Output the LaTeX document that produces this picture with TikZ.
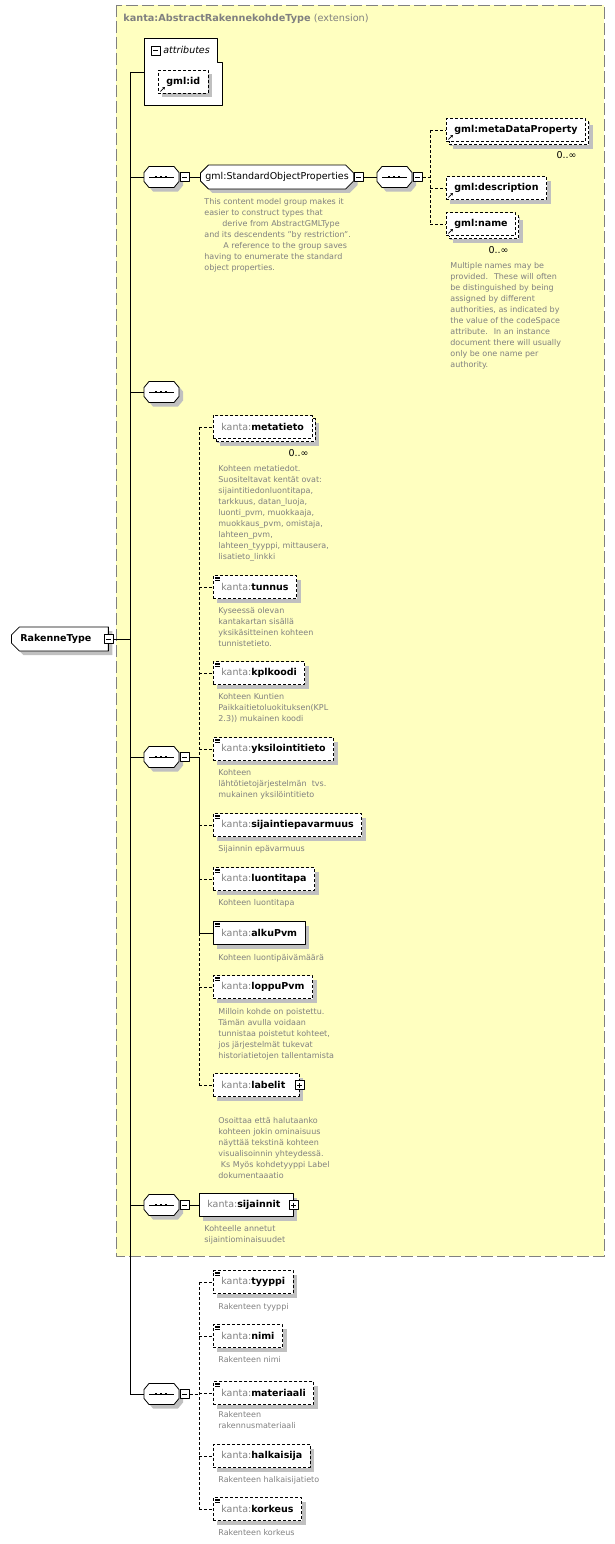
\documentclass[tikz,border=0pt]{standalone}
\usepackage{fontspec}
\setmainfont{DejaVu Sans}
\usetikzlibrary{shapes.misc,shadows,arrows.meta}
\definecolor{extyellow}{HTML}{FFFFC0}
\definecolor{txtgray}{HTML}{808080}
\definecolor{shgray}{HTML}{C0C0C0}
\newcommand\kanta[1]{\textcolor{txtgray}{kanta:}\textbf{#1}}
\newcommand\gmlel[1]{\textbf{gml:#1}}
% sequence symbol: name, x, y (left middle)
\newcommand\seqsym[3]{%
  \begin{scope}[shift={(#2,#3)}]
    \fill[shgray] (4,-.5) -- (9,-6.5) -- (34,-6.5) -- (39,-.5) -- (39,8.5) -- (34,14.5) -- (9,14.5) -- (4,8.5) -- cycle;
    \draw[fill=white] (0,-4.5) -- (5,-10.5) -- (30,-10.5) -- (35,-4.5) -- (35,4.5) -- (30,10.5) -- (5,10.5) -- (0,4.5) -- cycle;
    \draw (5,0) -- (30,0);
    \foreach \d in {12,17,22} \fill (\d-1.4,-1.4) rectangle (\d+1.4,1.4);
    \node[inner sep=0,minimum width=35,minimum height=21,anchor=west] (#1) at (0,0) {};
  \end{scope}}
\begin{document}
\begin{tikzpicture}[x=1pt,y=-1pt,line join=round,line width=.8pt,
  font=\fontsize{9.5}{11}\selectfont,
  dsh/.style={dash pattern=on 3pt off 2pt},
  shad/.style={drop shadow={shadow xshift=4pt,shadow yshift=-4pt,fill=shgray,opacity=1}},
  elem/.style={draw,fill=white,dsh,shad,anchor=west,minimum height=23,inner xsep=8},
  must/.style={solid},
  many/.style={drop shadow={shadow xshift=7pt,shadow yshift=-7pt,fill=shgray,opacity=1},
    general shadow={shadow xshift=3pt,shadow yshift=-3pt,fill=white,draw=black,dsh}},
  simple/.style={path picture={\foreach \k in {1.5,3.2,4.9}
    \draw[solid,line width=.7pt] ([xshift=2pt,yshift=-\k pt]path picture bounding box.north west) -- ++(5pt,0pt);}},
  ref/.style={path picture={\draw[solid,line width=.7pt,-{Stealth[length=2.5pt,width=3pt]}]
    ([xshift=2pt,yshift=2pt]path picture bounding box.south west) -- ++(4.5pt,4.5pt);}},
  minus/.style={draw,solid,fill=white,minimum size=9,inner sep=0,
    path picture={\draw ([xshift=2pt]path picture bounding box.west) -- ([xshift=-2pt]path picture bounding box.east);}},
  plus/.style={draw,solid,fill=white,minimum size=9,inner sep=0,
    path picture={\draw ([xshift=2pt]path picture bounding box.west) -- ([xshift=-2pt]path picture bounding box.east);
      \draw ([yshift=2pt]path picture bounding box.south) -- ([yshift=-2pt]path picture bounding box.north);}},
  note/.style={anchor=north west,inner sep=0,align=left,text=txtgray,font=\fontsize{8}{11}\selectfont},
  occ/.style={anchor=north east,inner sep=0}]
\useasboundingbox (0,0) rectangle (615,1544);
% extension box
\draw[draw=gray,fill=extyellow,dash pattern=on 12pt off 4pt] (116,5) rectangle (604,1256);
\node[anchor=west,inner sep=0,text=txtgray,font=\fontsize{9.7}{11}\selectfont] (exttitle) at (123,19)
  {\textbf{kanta:AbstractRakennekohdeType} (extension)};
% attributes
\draw[fill=white] (144,38) -| (217,62) -| (222,105) -| cycle;
\node[minus] (attrm) at (155.5,50.5) {};
\node[anchor=west,inner sep=0,font=\fontsize{9.5}{11}\selectfont\itshape] (attrlbl) at (163,50) {attributes};
\node[elem,ref] (gmlid) at (158,82) {\gmlel{id}};
\coordinate (attrin) at (144,72);
% root
\node[chamfered rectangle,chamfered rectangle corners={north west,south west},
  chamfered rectangle xsep=4pt,chamfered rectangle ysep=4pt,draw,fill=white,shad,
  anchor=west,minimum height=24,inner xsep=5,font=\fontsize{9.5}{11}\selectfont\bfseries]
  (rt) at (11,639) {RakenneType\hspace*{8pt}};
\node[minus] (rtm) at (rt.east) {};
\coordinate (spinetop) at (130,72);
\coordinate (spinebot) at (130,1394);
% standard object properties
\seqsym{seqsop}{144}{177}
\node[minus,anchor=west] (seqsopm) at (seqsop.east) {};
\node[chamfered rectangle,chamfered rectangle xsep=4pt,chamfered rectangle ysep=4pt,
  draw,fill=white,shad,anchor=west,minimum height=23,inner xsep=1] (sop) at (200,177) {gml:StandardObjectProperties};
\node[minus,anchor=west] (sopm) at (sop.east) {};
\seqsym{seqgml}{377}{177}
\node[minus,anchor=west] (seqgmlm) at (seqgml.east) {};
\node[elem,ref,many] (mdp) at (446,130) {\gmlel{metaDataProperty}};
\node[elem,ref] (gdesc) at (446,188) {\gmlel{description}};
\node[elem,ref,many] (gname) at (446,224) {\gmlel{name}};
\node[occ] (mdpocc) at (577,151) {0..∞};
\node[occ] (gnameocc) at (509,246) {0..∞};
\coordinate (gbus) at (430,177);
\node[note] (sopnote) at (204,198) {This content model group makes it\\easier to construct types that\\
  \hspace*{18pt}derive from AbstractGMLType\\and its descendents "by restriction".\\
  \hspace*{19pt}A reference to the group saves\\having to enumerate the standard\\object properties.};
\node[note] (gnamenote) at (450,262) {Multiple names may be\\provided.~ These will often\\be distinguished by being\\
  assigned by different\\authorities, as indicated by\\the value of the codeSpace\\attribute.~ In an instance\\
  document there will usually\\only be one name per\\authority.};
% empty sequence
\seqsym{seqempty}{144}{392}
% kanta elements
\seqsym{seqobj}{144}{757}
\node[minus,anchor=west] (seqobjm) at (seqobj.east) {};
\coordinate (kbus) at (199,757);
\node[elem,many] (meta) at (213,427) {\kanta{metatieto}};
\node[occ] (metaocc) at (309,449) {0..∞};
\node[note] (metanote) at (218,465) {Kohteen metatiedot.\\Suositeltavat kentät ovat:\\sijaintitiedonluontitapa,\\
  tarkkuus, datan\_luoja,\\luonti\_pvm, muokkaaja,\\muokkaus\_pvm, omistaja,\\lahteen\_pvm,\\
  lahteen\_tyyppi, mittausera,\\lisatieto\_linkki};
\node[elem,simple] (tunnus) at (213,587) {\kanta{tunnus}};
\node[note] (tunnusnote) at (218,607) {Kyseessä olevan\\kantakartan sisällä\\yksikäsitteinen kohteen\\tunnistetieto.};
\node[elem,simple] (kpl) at (213,673) {\kanta{kplkoodi}};
\node[note] (kplnote) at (218,693) {Kohteen Kuntien\\Paikkaitietoluokituksen(KPL\\2.3)) mukainen koodi};
\node[elem,simple] (yks) at (213,749) {\kanta{yksilointitieto}};
\node[note] (yksnote) at (218,769) {Kohteen\\lähtötietojärjestelmän~ tvs.\\mukainen yksilöintitieto};
\node[elem,simple] (sijep) at (213,825) {\kanta{sijaintiepavarmuus}};
\node[note] (sijepnote) at (218,845) {Sijainnin epävarmuus};
\node[elem,simple] (luonti) at (213,879) {\kanta{luontitapa}};
\node[note] (luontinote) at (218,899) {Kohteen luontitapa};
\node[elem,must,simple] (alku) at (213,933) {\kanta{alkuPvm}};
\node[note] (alkunote) at (218,954) {Kohteen luontipäivämäärä};
\node[elem,simple] (loppu) at (213,987) {\kanta{loppuPvm}};
\node[note] (loppunote) at (218,1008) {Milloin kohde on poistettu.\\Tämän avulla voidaan\\tunnistaa poistetut kohteet,\\
  jos järjestelmät tukevat\\historiatietojen tallentamista};
\node[elem] (labelit) at (213,1085) {\kanta{labelit}\hspace*{6pt}};
\node[plus] (labelitp) at (labelit.east) {};
\node[note] (labelitnote) at (218,1117) {Osoittaa että halutaanko\\kohteen jokin ominaisuus\\näyttää tekstinä kohteen\\
  visualisoinnin yhteydessä.\\\hspace*{2.5pt}Ks Myös kohdetyyppi Label\\dokumentaaatio};
% sijainnit
\seqsym{seqloc}{144}{1205}
\node[minus,anchor=west] (seqlocm) at (seqloc.east) {};
\node[elem,must] (sijainnit) at (199,1205) {\kanta{sijainnit}\hspace*{5pt}};
\node[plus] (sijainnitp) at (sijainnit.east) {};
\node[note] (sijainnitnote) at (204,1225) {Kohteelle annetut\\sijaintiominaisuudet};
% rakenne elements
\seqsym{seqrak}{144}{1394}
\node[minus,anchor=west] (seqrakm) at (seqrak.east) {};
\coordinate (rbus) at (199,1394);
\node[elem,simple] (tyyppi) at (213,1282) {\kanta{tyyppi}};
\node[note] (tyyppinote) at (218,1303) {Rakenteen tyyppi};
\node[elem,simple] (nimi) at (213,1336) {\kanta{nimi}};
\node[note] (niminote) at (218,1356) {Rakenteen nimi};
\node[elem,simple] (mat) at (213,1393) {\kanta{materiaali}};
\node[note] (matnote) at (218,1411) {Rakenteen\\rakennusmateriaali};
\node[elem] (halk) at (213,1456) {\kanta{halkaisija}};
\node[note] (halknote) at (218,1476) {Rakenteen halkaisijatieto};
\node[elem,simple] (kork) at (213,1509) {\kanta{korkeus}};
\node[note] (korknote) at (218,1529) {Rakenteen korkeus};
% connectors
\draw (spinetop) -- (spinebot);
\draw (rtm.east) -- (rtm.east -| spinetop);
\draw (spinetop) -- (attrin);
\foreach \s in {seqsop,seqempty,seqobj,seqloc,seqrak}
  \draw (\s.west -| spinetop) -- (\s.west);
\draw (seqsopm.east) -- (sop.west);
\draw (sopm.east) -- (seqgml.west);
\draw[dsh] (seqgmlm.east) -- (gbus);
\draw[dsh] (mdp.west -| gbus) -- (gname.west -| gbus);
\foreach \e in {mdp,gdesc,gname}
  \draw[dsh] (\e.west -| gbus) -- (\e.west);
\draw (seqobjm.east) -- (kbus);
\draw[dsh] (meta.west -| kbus) -- (kbus);
\draw (kbus) -- (alku.west -| kbus);
\draw[dsh] (alku.west -| kbus) -- (labelit.west -| kbus);
\foreach \e in {meta,tunnus,kpl,yks,sijep,luonti,loppu,labelit}
  \draw[dsh] (\e.west -| kbus) -- (\e.west);
\draw (alku.west -| kbus) -- (alku.west);
\draw (seqlocm.east) -- (sijainnit.west);
\draw[dsh] (seqrakm.east) -- (rbus);
\draw[dsh] (tyyppi.west -| rbus) -- (kork.west -| rbus);
\foreach \e in {tyyppi,nimi,mat,halk,kork}
  \draw[dsh] (\e.west -| rbus) -- (\e.west);
\end{tikzpicture}
\end{document}
